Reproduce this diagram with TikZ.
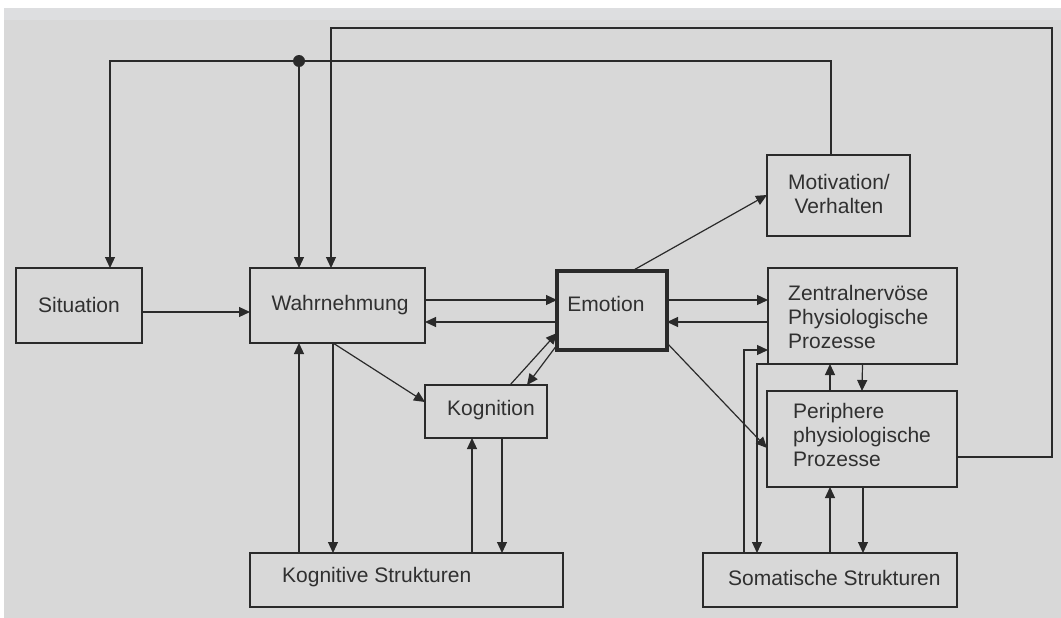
\documentclass[tikz,border=0pt]{standalone}
\usepackage{fontspec}
\setmainfont{Liberation Sans}
\usetikzlibrary{arrows.meta}
\definecolor{bg}{HTML}{D8D8D8}
\definecolor{bgtop}{HTML}{DDDEE0}
\definecolor{ink}{HTML}{2A2A2A}
\definecolor{txt}{HTML}{303030}
\tikzset{
  box/.style={draw=ink, line width=1.4pt, rectangle, inner sep=0pt, outer sep=0pt, anchor=north west},
  lbl/.style={inner sep=0pt, text=txt, font=\fontsize{21}{24}\selectfont},
  conn/.style={draw=ink, line width=1.2pt},
  arr/.style={conn, -{Triangle[length=11pt,width=10pt]}},
}
\begin{document}
\begin{tikzpicture}[x=1pt,y=-1pt]
\useasboundingbox (0,0) rectangle (1061,618);
\fill[white] (0,0) rectangle (1061,618);
\fill[bgtop] (4,8) rectangle (1061,20);
\fill[bg] (4,20) rectangle (1061,618);

% boxes
\node[box, minimum width=126pt, minimum height=75pt] (sit) at (16,268) {};
\node[box, minimum width=175pt, minimum height=75pt] (wahr) at (250,268) {};
\node[box, line width=3.2pt, minimum width=110pt, minimum height=79pt] (emo) at (557,271) {};
\node[box, minimum width=122pt, minimum height=53pt] (kog) at (425,385) {};
\node[box, minimum width=313pt, minimum height=54pt] (ks) at (250,553) {};
\node[box, minimum width=143pt, minimum height=81pt] (mot) at (767,155) {};
\node[box, minimum width=189pt, minimum height=96pt] (zent) at (768,268) {};
\node[box, minimum width=190pt, minimum height=96pt] (peri) at (767,391) {};
\node[box, minimum width=254pt, minimum height=54pt] (som) at (703,553) {};

% texts
\node[lbl] (tsit) at (79,305) {Situation};
\node[lbl] (twahr) at (340,305) {Wahrnehmung};
\node[lbl] (temo) at (606,304) {Emotion};
\node[lbl] (tkog) at (491,410) {Kognition};
\node[lbl, anchor=west] (tks) at (282,577) {Kognitive Strukturen};
\node[lbl, align=center] (tmot) at (839,194) {Motivation/\\Verhalten};
\node[lbl, align=left, anchor=west] (tzent) at (788,317) {Zentralnervöse\\Physiologische\\Prozesse};
\node[lbl, align=left, anchor=west] (tperi) at (793,435) {Periphere\\physiologische\\Prozesse};
\node[lbl, anchor=west] (tsom) at (728,578) {Somatische Strukturen};

% helper coordinates
\coordinate (dot) at (299,61);
\coordinate (tr) at (1052,28);

% top loops
\draw[arr] ([xshift=-7.5pt]mot.north) |- (dot) -| ([xshift=31pt]sit.north);
\draw[arr] (dot) -- ([xshift=-38.5pt]wahr.north);
\fill[ink] (dot) circle (6pt);
\draw[arr] ([yshift=-18pt]peri.east) -| (tr) -| ([xshift=-6.5pt]wahr.north);

% left part
\draw[arr] ([yshift=-6.5pt]sit.east) -- ([yshift=-6.5pt]wahr.west);
\draw[arr] ([yshift=5.5pt]wahr.east) -- ([yshift=10.5pt]emo.west);
\draw[arr] ([yshift=-11.5pt]emo.west) -- ([yshift=-16.5pt]wahr.east);
\draw[arr] ([xshift=-4.5pt]wahr.south) -- ([yshift=9.5pt]kog.west);
\draw[arr] ([xshift=-107.5pt]ks.north) -- ([xshift=-38.5pt]wahr.south);
\draw[arr] ([xshift=-4.5pt]wahr.south) -- ([xshift=-73.5pt]ks.north);
\draw[arr] ([xshift=65.5pt]ks.north) -- ([xshift=-14pt]kog.south);
\draw[arr] ([xshift=16pt]kog.south) -- ([xshift=95.5pt]ks.north);
\draw[arr] ([xshift=24pt]kog.north) -- ([yshift=-22.5pt]emo.west);
\draw[arr] ([yshift=-34.5pt]emo.west) -- ([xshift=41pt]kog.north);

% right part
\draw[arr] ([xshift=20pt]emo.north) -- ([yshift=0.5pt]mot.west);
\draw[arr] ([yshift=10.5pt]emo.east) -- ([yshift=16pt]zent.west);
\draw[arr] ([yshift=-6pt]zent.west) -- ([yshift=-11.5pt]emo.east);
\draw[arr] ([yshift=-32.5pt]emo.east) -- ([yshift=-9pt]peri.west);
\draw[arr] ([xshift=-86pt]som.north) |- ([yshift=-34pt]zent.west);
\draw[arr] (zent.south west) -| ([xshift=-73pt]som.north);
\draw[arr] ([xshift=-32pt]peri.north) -- ([xshift=-32.5pt]zent.south);
\draw[arr] (zent.south) -- (peri.north);
\draw[arr] (som.north) -- ([xshift=-32pt]peri.south);
\draw[arr] ([xshift=1pt]peri.south) -- ([xshift=33pt]som.north);
\end{tikzpicture}
\end{document}
